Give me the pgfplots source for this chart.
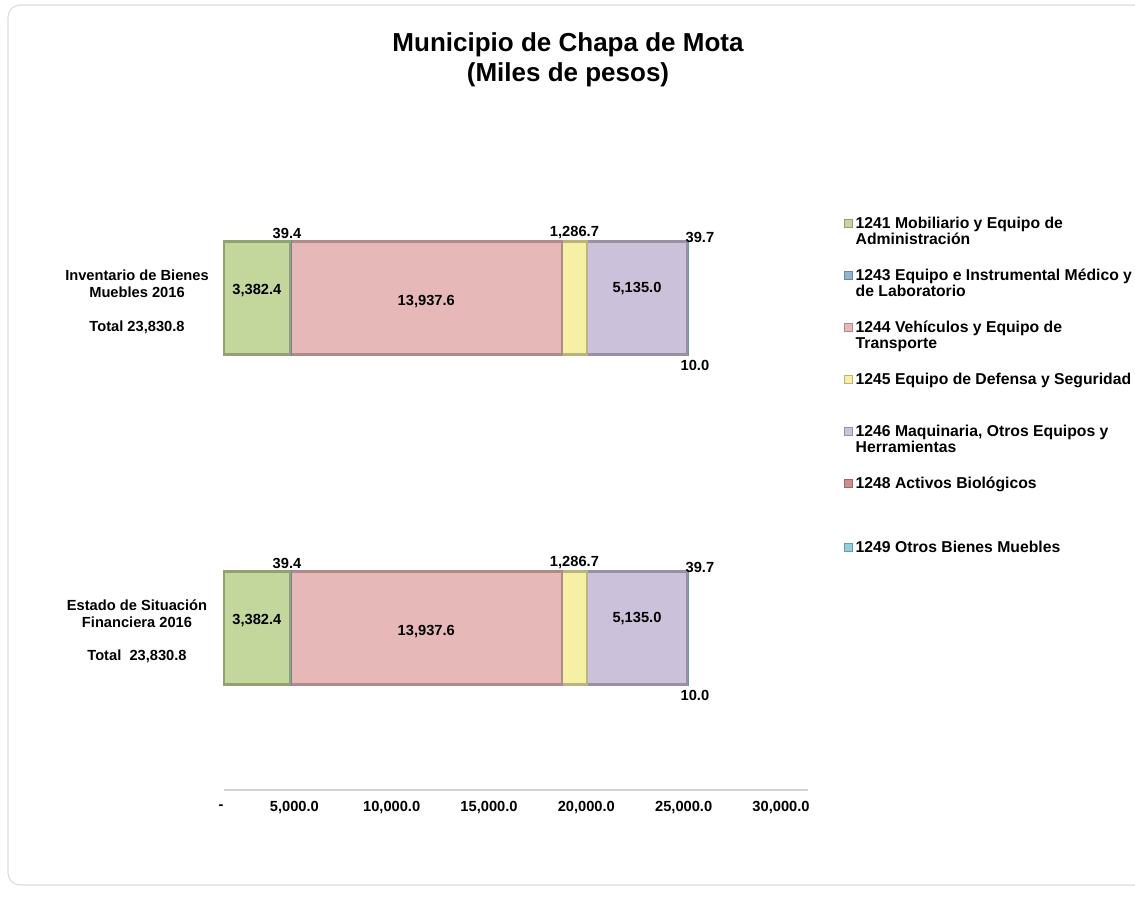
\documentclass[border=0pt]{standalone}
\usepackage{fontspec}
\setmainfont{Liberation Sans}
\usepackage{pgfplots}
\pgfplotsset{compat=1.18}

\definecolor{cA}{HTML}{C3D69B}% 1241
\definecolor{cB}{HTML}{8FB4D0}% 1243
\definecolor{cC}{HTML}{E6B9B8}% 1244
\definecolor{cD}{HTML}{F6F0A4}% 1245
\definecolor{cE}{HTML}{CCC1DA}% 1246
\definecolor{cF}{HTML}{D08C8C}% 1248
\definecolor{cG}{HTML}{92CDDC}% 1249

\pgfplotsset{
  seg/.style={fill=#1, draw=#1!75!black, line width=1.8pt,
    legend image code/.code={\draw[##1, line width=0.6pt] (0pt,0.4pt) rectangle (6pt,6.4pt);}},
}
\newcommand{\lab}{\bfseries\fontsize{11}{13}\selectfont}
\newcommand{\two}[2]{\begin{tabular}[t]{@{}l@{}}#1\\#2\end{tabular}}

\begin{document}
\begin{tikzpicture}
\useasboundingbox (0,0) rectangle (851.25pt,680.25pt);
% frame and titles, in pixel units of the reference
\begin{scope}[x=0.75pt,y=-0.75pt,yshift=680.25pt]
\draw[black!14, line width=0.8pt, rounded corners=9pt] (8,5) rectangle (1160,885);
\node[align=center, font=\bfseries\fontsize{19.5}{22.5}\selectfont] at (568,60)
  {Municipio de Chapa de Mota\\(Miles de pesos)};
\node[align=center, font=\bfseries\fontsize{11}{12.75}\selectfont] at (137,302)
  {Inventario de Bienes\\Muebles 2016\\[13pt]Total 23,830.8};
\node[align=center, font=\bfseries\fontsize{11}{12.75}\selectfont] at (137,631)
  {Estado de Situación\\Financiera 2016\\[12pt]Total\ \ 23,830.8};
\end{scope}

\begin{axis}[
  at={(168pt,87.75pt)}, anchor=south west,
  scale only axis, width=438pt, height=492.75pt,
  xbar stacked, bar width=0.342,
  xmin=0, xmax=30000, ymin=-0.491, ymax=1.5,
  axis y line=none, axis x line*=bottom,
  x axis line style={draw=black!18, line width=0.8pt},
  major tick length=0pt,
  scaled x ticks=false,
  xtick={5000,10000,15000,20000,25000,30000},
  xticklabels={{5,000.0},{10,000.0},{15,000.0},{20,000.0},{25,000.0},{30,000.0}},
  extra x ticks={0}, extra x tick labels={-},
  extra x tick style={xticklabel style={xshift=18pt, yshift=-2.5pt}},
  xticklabel style={font=\bfseries\fontsize{11}{13}\selectfont, xshift=-20.25pt, yshift=-5.25pt},
  legend cell align=left,
  legend style={at={(axis description cs:1.0616,0.878)}, anchor=north west,
    draw=none, fill=none, inner sep=0pt, row sep=2pt, column sep=0pt,
    font=\bfseries\fontsize{11.8}{12}\selectfont,
    cells={anchor=base west},
    nodes={inner sep=2pt, text height=9pt, text depth=24pt}},
  clip=false,
]
\addplot[seg=cA] coordinates {(3382.4,0) (3382.4,1)};
\addlegendentry{\two{1241 Mobiliario y Equipo de}{Administración}}
\addplot[seg=cB] coordinates {(39.4,0) (39.4,1)};
\addlegendentry{\two{1243 Equipo e Instrumental Médico y}{de Laboratorio}}
\addplot[seg=cC] coordinates {(13937.6,0) (13937.6,1)};
\addlegendentry{\two{1244 Vehículos y Equipo de}{Transporte}}
\addplot[seg=cD] coordinates {(1286.7,0) (1286.7,1)};
\addlegendentry{1245 Equipo de Defensa y Seguridad}
\addplot[seg=cE] coordinates {(5135.0,0) (5135.0,1)};
\addlegendentry{\two{1246 Maquinaria, Otros Equipos y}{Herramientas}}
\addplot[seg=cF] coordinates {(10.0,0) (10.0,1)};
\addlegendentry{1248 Activos Biológicos}
\addplot[seg=cG] coordinates {(39.7,0) (39.7,1)};
\addlegendentry[text height=18pt]{1249 Otros Bienes Muebles}

% anchor points of the data labels (drawn after the axis, on top of the bars)
\pgfplotsinvokeforeach{0,1}{
  \coordinate (a#1) at (axis cs:1691,{#1+0.024});
  \coordinate (b#1) at (axis cs:10390,{#1-0.012});
  \coordinate (c#1) at (axis cs:21214,{#1+0.03});
  \coordinate (d#1) at (axis cs:3236,{#1+0.197});
  \coordinate (e#1) at (axis cs:18003,{#1+0.197});
  \coordinate (f#1) at (axis cs:24448,{#1+0.182});
  \coordinate (g#1) at (axis cs:24190,{#1-0.205});
}
\end{axis}
\foreach \k in {0,1} {
  \node[font=\lab] at (a\k) {3,382.4};
  \node[font=\lab] at (b\k) {13,937.6};
  \node[font=\lab] at (c\k) {5,135.0};
  \node[font=\lab] at (d\k) {39.4};
  \node[font=\lab] at (e\k) {1,286.7};
  \node[font=\lab] at (f\k) {39.7};
  \node[font=\lab] at (g\k) {10.0};
}
\end{tikzpicture}
\end{document}
